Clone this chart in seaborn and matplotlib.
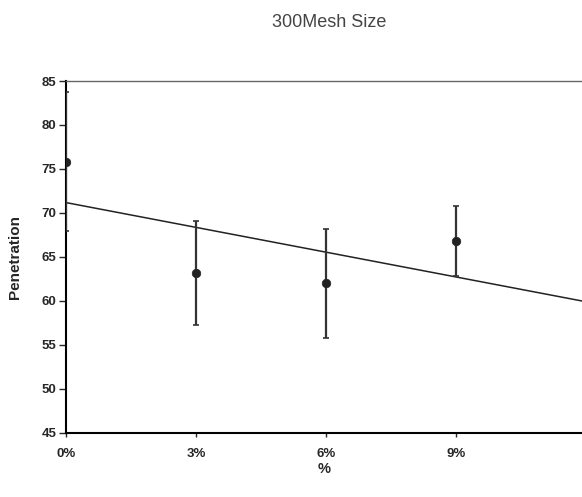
import seaborn as sns
import matplotlib.pyplot as plt
from matplotlib.ticker import FuncFormatter
import pandas as pd

# data
pct = [0, 3, 6, 9]
penetration = [75.8, 63.2, 62.0, 66.8]
err = [7.9, 5.9, 6.2, 4.0]

df = pd.DataFrame({'pct': pct, 'pen': penetration, 'err': err})

sns.set_style('ticks')
plt.rcParams['font.family'] = ['Liberation Sans', 'DejaVu Sans']

fig = plt.figure(figsize=(5.82, 4.97), dpi=100)
ax = fig.add_axes([0.1134, 0.129, 0.8866, 0.708])
ax.set_xlim(0, 11.9)
ax.set_ylim(45, 85)

ax.errorbar(df['pct'], df['pen'], yerr=df['err'], fmt='none', ecolor='#333333',
            elinewidth=1.6, capsize=2.5, capthick=1.2, zorder=3)
sns.scatterplot(x='pct', y='pen', data=df, color='#222222', s=38, edgecolor='#222222',
                ax=ax, zorder=4)
sns.regplot(x='pct', y='pen', data=df, scatter=False, ci=None, truncate=False,
            line_kws={'color': '#222222', 'linewidth': 1.1}, ax=ax)

ax.set_xticks([0, 3, 6, 9])
ax.xaxis.set_major_formatter(FuncFormatter(lambda v, p: '%d%%' % v))
ax.set_yticks(range(45, 90, 5))
ax.tick_params(axis='y', direction='out', length=5, width=1, labelsize=9.5, pad=2)
ax.tick_params(axis='x', direction='out', length=3, width=1, labelsize=9.5, pad=8)
for lab in ax.get_xticklabels() + ax.get_yticklabels():
    lab.set_fontweight('bold')

for s in ['left', 'bottom']:
    ax.spines[s].set_color('black')
    ax.spines[s].set_linewidth(1.5)
ax.spines['top'].set_visible(True)
ax.spines['top'].set_color('#666666')
ax.spines['top'].set_linewidth(1.0)
ax.spines['right'].set_visible(False)

ax.set_xlabel('%', fontsize=10.5, fontweight='bold', labelpad=1)
ax.set_ylabel('Penetration', fontsize=11, fontweight='bold', labelpad=14)
ax.set_title('300Mesh Size', fontsize=13, color='#444444', pad=39, x=0.51)

fig.savefig('out.png', dpi=100)
